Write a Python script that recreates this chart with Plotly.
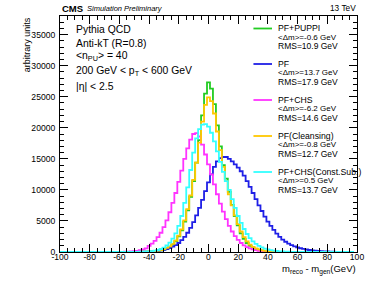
import plotly.graph_objects as go

# ---------------- data (2 GeV bins, centres from -100 to 98) ----------------
bin_centers = list(range(-100, 100, 2))

puppi = [0] * 20 + [
    0, 0, 5, 8, 12, 16, 22, 30, 40, 55,
    75, 100, 140, 200, 280, 400, 580, 830, 1200, 1750,
    2500, 3500, 4900, 6700, 8900, 11400, 14400, 18000, 22000, 25500,
    27300, 26300, 23800, 20400, 17000, 14000, 11800, 9700, 7600, 5800,
    4300, 3000, 2100, 1450, 1000, 700, 480, 330, 220, 150,
    100, 70, 45, 30, 20, 12, 8, 5,
] + [0] * 22

pf = [0] * 20 + [
    0, 0, 3, 5, 8, 12, 18, 26, 38, 55,
    75, 105, 145, 200, 270, 360, 480, 640, 850, 1100,
    1450, 1900, 2450, 3100, 3900, 4800, 5900, 7100, 8400, 9800,
    11200, 12500, 13700, 14600, 15100, 15300, 15300, 15000, 14600, 14100,
    13600, 13000, 12300, 11400, 10500, 9500, 8500, 7500, 6600, 5700,
    4900, 4200, 3550, 2950, 2450, 2000, 1650, 1350, 1100, 900,
    740, 600, 490, 400, 320, 260, 210, 165, 130, 100,
    80, 60, 45, 35, 25, 18, 13, 9, 6, 4,
]

chs = [0] * 20 + [
    15, 25, 40, 60, 90, 130, 190, 280, 400, 580,
    1000, 1350, 1800, 2400, 3100, 4000, 5100, 6400, 7900, 9500,
    11300, 13100, 15000, 16700, 18100, 19000, 19150, 18600, 17300, 15700,
    14100, 12500, 10900, 9300, 7800, 6500, 5300, 4200, 3300, 2550,
    1950, 1450, 1080, 790, 570, 410, 290, 205, 145, 100,
    70, 48, 33, 22, 15, 10, 6, 4,
] + [0] * 22

cleansing = [0] * 20 + [
    0, 0, 6, 9, 13, 18, 25, 34, 45, 60,
    80, 110, 155, 220, 310, 450, 650, 920, 1320, 1850,
    2650, 3650, 5100, 6900, 9100, 11600, 14400, 17600, 21000, 23700,
    24900, 24300, 22300, 19400, 16400, 13700, 11400, 9300, 7500, 5900,
    4500, 3300, 2400, 1700, 1200, 840, 590, 410, 280, 190,
    130, 90, 60, 40, 26, 17, 11, 7, 4, 2,
] + [0] * 20

constsub = [0] * 20 + [
    0, 5, 8, 12, 17, 24, 32, 44, 60, 80,
    105, 150, 215, 320, 480, 720, 1050, 1500, 2150, 3000,
    4200, 5800, 7900, 10400, 13200, 16000, 18300, 19800, 20500, 20600,
    20200, 19200, 17800, 16200, 14500, 12900, 11400, 10000, 8500, 7100,
    5800, 4700, 3700, 2900, 2250, 1700, 1300, 980, 740, 550,
    410, 300, 220, 160, 115, 80, 55, 40, 28, 18,
    12, 8, 5, 3,
] + [0] * 16

series_names = ["PF+PUPPI", "PF", "PF+CHS", "PF(Cleansing)", "PF+CHS(Const.Sub.)"]
series_values = [puppi, pf, chs, cleansing, constsub]
series_colors = ["#22CC22", "#1F1FE6", "#FF33FF", "#FFC800", "#33FFFF"]
series_mean = ["-0.6", "13.7", "-6.2", "-0.8", "0.5"]
series_rms = ["10.9", "17.9", "14.6", "12.7", "13.7"]

x_ticks = list(range(-100, 101, 20))
y_ticks = list(range(0, 36000, 5000))

# ---------------- geometry ----------------
W, H = 374, 290
ML, MR, MT, MB = 60, 10, 16, 38
PW, PH = W - ML - MR, H - MT - MB


def px(x):
    return (x - ML) / PW


def py(y):
    return (H - MB - y) / PH


FONT = "Liberation Sans, Arial, Helvetica, sans-serif"

fig = go.Figure()
for name, vals, col in zip(series_names, series_values, series_colors):
    fig.add_trace(go.Scatter(
        x=bin_centers, y=vals, mode="lines", name=name,
        line=dict(color=col, width=1.8, shape="hvh"),
        showlegend=False, hoverinfo="skip",
    ))

axis_common = dict(
    showgrid=False, zeroline=False, showline=True, linecolor="black",
    linewidth=1, mirror="ticks", ticks="inside", tickcolor="black",
    tickwidth=1, ticklen=8,
    tickfont=dict(family=FONT, size=8.6, color="black"),
)

fig.update_xaxes(
    range=[-100, 100], tickmode="array", tickvals=x_ticks,
    ticktext=[str(v) for v in x_ticks],
    minor=dict(dtick=5, tick0=0, ticklen=4, ticks="inside", tickcolor="black"),
    ticklabelstandoff=-3,
    **axis_common,
)
fig.update_yaxes(
    range=[0, 38000], tickmode="array", tickvals=y_ticks,
    ticktext=[str(v) for v in y_ticks],
    minor=dict(dtick=1000, tick0=0, ticklen=4, ticks="inside", tickcolor="black"),
    ticklabelstandoff=2,
    **axis_common,
)

ann = []


def text(x, y, s, size, xanchor="left", yanchor="middle", **kw):
    ann.append(dict(
        x=px(x), y=py(y), xref="paper", yref="paper", text=s, showarrow=False,
        xanchor=xanchor, yanchor=yanchor,
        font=dict(family=FONT, size=size, color="black"), **kw,
    ))


# header
text(60, 8, "<b>CMS</b>", 9.5)
text(86, 8, "<i>Simulation Preliminary</i>", 7.5)
text(365, 8, "13 TeV", 8.3, xanchor="right")

# info block
info_lines = ["Pythia QCD", "Anti-kT (R=0.8)", "&lt;n<sub>PU</sub>&gt; = 40",
              "200 GeV &lt; p<sub>T</sub> &lt; 600 GeV", "|η| &lt; 2.5"]
info_y = [30, 43, 57, 71, 86]
for s, yy in zip(info_lines, info_y):
    text(74, yy, s, 10.4)

# legend
shapes = []
base_y = [28.5, 64, 100, 136, 172]
for name, col, m, r, by in zip(series_names, series_colors, series_mean,
                                 series_rms, base_y):
    shapes.append(dict(type="line", xref="paper", yref="paper",
                       x0=px(258), x1=px(277), y0=py(by), y1=py(by),
                       line=dict(color=col, width=1.8)))
    text(281, by, name, 8.7)
    text(281, by + 8.8, "&lt;Δm&gt;=" + m + " GeV", 8.0)
    text(281, by + 17.8, "RMS=" + r + " GeV", 8.5)

# axis titles
text(365, 269, "m<sub>reco</sub> - m<sub>gen</sub>(GeV)", 9.5, xanchor="right")
ann.append(dict(
    x=px(26), y=py(15), xref="paper", yref="paper", text="arbitrary units",
    showarrow=False, textangle=-90, xanchor="center", yanchor="top",
    font=dict(family=FONT, size=9, color="black"),
))

fig.update_layout(
    width=W, height=H, margin=dict(l=ML, r=MR, t=MT, b=MB),
    paper_bgcolor="white", plot_bgcolor="white",
    annotations=ann, shapes=shapes, showlegend=False,
)

fig.write_html("out.html", config={"displayModeBar": False},
               post_script="document.body.style.margin='0';")
